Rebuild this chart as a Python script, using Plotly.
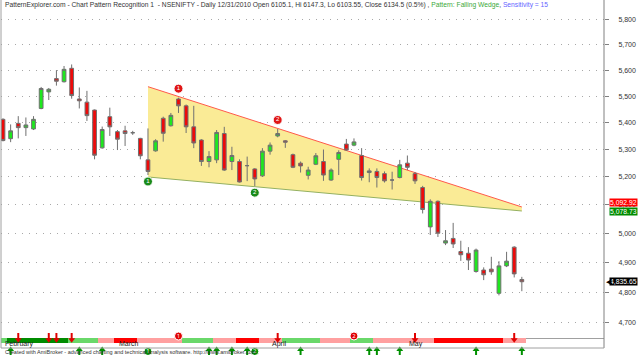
import math
import plotly.graph_objects as go

# ---------------- data ----------------
opens = [5412, 5340, 5397, 5381, 5376, 5453, 5516, 5567, 5555, 5607,
         5489, 5477, 5447, 5306, 5422, 5366, 5369, 5362, 5341, 5262,
         5295, 5416, 5388, 5489, 5463, 5384, 5335, 5256, 5262, 5359,
         5256, 5256, 5241, 5229, 5204, 5294, 5350, 5332, 5281, 5250,
         5206, 5246, 5256, 5189, 5264, 5320, 5316, 5278, 5216, 5220,
         5212, 5189, 5198, 5250, 5212, 5162, 5023, 5113, 4967, 4983,
         4938, 4932, 4870, 4875, 4878, 4797, 4889, 4953, 4843]
highs = [5416, 5393, 5424, 5419, 5424, 5535, 5531, 5600, 5616, 5622,
         5533, 5520, 5449, 5385, 5456, 5372, 5388, 5369, 5343, 5378,
         5338, 5422, 5436, 5494, 5468, 5463, 5338, 5294, 5372, 5384,
         5310, 5264, 5274, 5232, 5305, 5326, 5376, 5335, 5285, 5256,
         5237, 5287, 5300, 5231, 5297, 5339, 5341, 5305, 5231, 5231,
         5220, 5219, 5262, 5278, 5218, 5168, 5120, 5116, 5012, 5037,
         4975, 4953, 4948, 4884, 4920, 4905, 4937, 4956, 4852]
lows = [5330, 5327, 5341, 5350, 5372, 5450, 5485, 5540, 5552, 5490,
        5453, 5406, 5264, 5303, 5350, 5298, 5313, 5354, 5264, 5207,
        5292, 5329, 5385, 5436, 5361, 5305, 5240, 5235, 5250, 5222,
        5225, 5180, 5185, 5167, 5200, 5281, 5345, 5306, 5232, 5216,
        5191, 5243, 5186, 5186, 5207, 5295, 5312, 5187, 5181, 5162,
        5180, 5155, 5195, 5225, 5175, 5070, 4995, 4988, 4960, 4950,
        4906, 4875, 4866, 4841, 4859, 4790, 4885, 4850, 4804]
closes = [5333, 5369, 5381, 5391, 5412, 5529, 5526, 5557, 5603, 5502,
          5482, 5426, 5279, 5374, 5384, 5338, 5359, 5362, 5277, 5220,
          5332, 5360, 5427, 5463, 5384, 5324, 5256, 5274, 5363, 5225,
          5278, 5182, 5241, 5193, 5294, 5316, 5359, 5327, 5235, 5240,
          5225, 5277, 5207, 5225, 5289, 5298, 5328, 5198, 5222, 5198,
          5186, 5189, 5244, 5235, 5186, 5084, 5113, 5001, 4975, 4964,
          4927, 4909, 4943, 4859, 4869, 4889, 4905, 4862, 4835.65]

month_labels = ["February", "March", "April", "May"]
month_start_bars = [0, 15, 35, 53]

ribbon_state = list("LDDDDDDDDLLLLPPRRRPPPPPPLLLLPPPRRRPPPLLLLLPPPPLLLPPPPPPPPRRRRRRRRRPPP")

wedge_bars = [19, 68]
wedge_upper = [5536, 5092.92]
wedge_lower = [5200, 5078.73]

pivot_high_bars = [23, 36]
pivot_low_bars = [19, 33]
pivot_labels = ["1", "2"]

buy_bars = [1, 10, 13, 27, 28, 30, 32, 39, 48, 49, 52, 62, 68]
sell_bars = [2, 6, 7, 9, 36, 54, 67]
bottom_green_circles = [19, 33]
bottom_red_circles = [23, 46]

price_ticks = [4700, 4800, 4900, 5000, 5100, 5200, 5300, 5400, 5500, 5600, 5700, 5800]

# ---------------- geometry ----------------
W, H = 640, 355
ML, MR = 1, 36
RIB_TOP, RIB_BOT = 333, 338
K = 1442.0           # px per ln unit of price
P_REF, Y_REF = 5800, 19.5
y_top = P_REF * math.exp(Y_REF / K)
y_bot = P_REF * math.exp(-(RIB_TOP - Y_REF) / K)
yrange = [math.log10(y_bot), math.log10(y_top)]

def pf(px):  # paper fraction from pixel y
    return (H - px) / H

n = len(closes)
idx = list(range(n))
PX_PER_BAR = 7.63
x0 = -2.0 / PX_PER_BAR
x1 = x0 + (W - ML - MR) / PX_PER_BAR

fig = go.Figure()

# wedge fill (main price subplot, drawn below the overlay candles)
fig.add_trace(go.Scatter(
    x=[wedge_bars[0], wedge_bars[1], wedge_bars[1], wedge_bars[0], wedge_bars[0]],
    y=[wedge_upper[0], wedge_upper[1], wedge_lower[1], wedge_lower[0], wedge_upper[0]],
    fill="toself", fillcolor="#faeb96", line=dict(width=0), mode="lines",
    hoverinfo="skip", showlegend=False))
fig.add_trace(go.Scatter(x=wedge_bars, y=wedge_upper, mode="lines",
                         line=dict(color="#ff5a4a", width=1), showlegend=False))
fig.add_trace(go.Scatter(x=wedge_bars, y=wedge_lower, mode="lines",
                         line=dict(color="#94b060", width=1), showlegend=False))

# candles on overlay axis y3
fig.add_trace(go.Candlestick(
    x=idx, open=opens, high=highs, low=lows, close=closes, yaxis="y3",
    increasing=dict(fillcolor="#1ee81e", line=dict(color="#707070", width=1)),
    decreasing=dict(fillcolor="#ee0a0a", line=dict(color="#707070", width=1)),
    whiskerwidth=0, showlegend=False))

# pivot circles
fig.add_trace(go.Scatter(
    x=pivot_high_bars, y=[highs[i] * math.exp(9 / K) for i in pivot_high_bars], yaxis="y3",
    mode="markers+text", text=pivot_labels, textposition="middle center",
    textfont=dict(color="white", size=6, family="Liberation Sans"),
    marker=dict(size=9, color="#e01515", line=dict(color="white", width=1)),
    showlegend=False, cliponaxis=False))
fig.add_trace(go.Scatter(
    x=pivot_low_bars, y=[lows[i] * math.exp(-6.5 / K) for i in pivot_low_bars], yaxis="y3",
    mode="markers+text", text=pivot_labels, textposition="middle center",
    textfont=dict(color="white", size=6, family="Liberation Sans"),
    marker=dict(size=9, color="#1a8a1a", line=dict(color="white", width=1)),
    showlegend=False, cliponaxis=False))

# ribbon on pixel axis y2
cmap = {"L": "#6ad86a", "D": "#008c00", "P": "#ffa0a0", "R": "#ff0000"}
fig.add_trace(go.Bar(x=idx, y=[RIB_BOT - RIB_TOP] * n, base=[RIB_BOT] * n,
                     marker=dict(color=[cmap[s] for s in ribbon_state], line=dict(width=0)),
                     width=1.0, yaxis="y2", showlegend=False, hoverinfo="skip"))

# buy arrows (bottom)
fig.add_trace(go.Scatter(x=buy_bars, y=[352.5] * len(buy_bars), mode="markers", yaxis="y2",
                         marker=dict(symbol="line-ns", size=6, line=dict(color="#009000", width=2)),
                         showlegend=False, cliponaxis=False))
fig.add_trace(go.Scatter(x=buy_bars, y=[349.5] * len(buy_bars), mode="markers", yaxis="y2",
                         marker=dict(symbol="triangle-up", size=6, color="#009000"),
                         showlegend=False, cliponaxis=False))
# sell arrows
fig.add_trace(go.Scatter(x=sell_bars, y=[336.5] * len(sell_bars), mode="markers", yaxis="y2",
                         marker=dict(symbol="line-ns", size=5, line=dict(color="#e00000", width=2)),
                         showlegend=False, cliponaxis=False))
fig.add_trace(go.Scatter(x=sell_bars, y=[339.8] * len(sell_bars), mode="markers", yaxis="y2",
                         marker=dict(symbol="triangle-down", size=6, color="#e00000"),
                         showlegend=False, cliponaxis=False))
fig.add_trace(go.Scatter(x=bottom_green_circles, y=[351.5] * 2, mode="markers+text", yaxis="y2",
                         text=pivot_labels, textposition="middle center",
                         textfont=dict(color="white", size=6),
                         marker=dict(size=8, color="#009000", line=dict(color="white", width=1)),
                         showlegend=False, cliponaxis=False))
fig.add_trace(go.Scatter(x=bottom_red_circles, y=[336] * 2, mode="markers+text", yaxis="y2",
                         text=pivot_labels, textposition="middle center",
                         textfont=dict(color="white", size=6),
                         marker=dict(size=8, color="#e00000", line=dict(color="white", width=1)),
                         showlegend=False, cliponaxis=False))

FONT = "Liberation Sans"
annotations = []
title_html = ("PatternExplorer.com - Chart Pattern Recognition 1 &nbsp;- NSENIFTY - Daily 12/31/2010 "
              "Open 6105.1, Hi 6147.3, Lo 6103.55, Close 6134.5 (0.5%) , "
              "<span style='color:#3aa83a'>Pattern: Falling Wedge</span>, "
              "<span style='color:#6464ff'>Sensitivity = 15</span>")
annotations.append(dict(text=title_html, xref="paper", yref="paper", x=0, y=pf(5.5),
                        xanchor="left", yanchor="middle", xshift=2, showarrow=False,
                        font=dict(size=6.7, color="#333333", family=FONT)))
for lab, b in zip(month_labels, month_start_bars):
    annotations.append(dict(text=lab, xref="x", yref="paper", x=b, y=pf(343.5),
                            xanchor="left", yanchor="middle", xshift=0, showarrow=False,
                            font=dict(size=7, color="#222222", family=FONT)))
annotations.append(dict(text="Created with AmiBroker - advanced charting and technical analysis software. http://www.amibroker.com",
                        xref="paper", yref="paper", x=0, y=pf(351.5), xanchor="left",
                        yanchor="middle", xshift=2, showarrow=False,
                        font=dict(size=5.5, color="#333333", family=FONT)))
# price tags
tags = [(wedge_upper[1], "#ff0000", 4.5), (wedge_lower[1], "#008c00", -0.5), (closes[-1], "#000000", 0)]
for val, col, ysh in tags:
    annotations.append(dict(text=f"{val:,.2f}", xref="paper", yref="y", x=1, y=math.log10(val),
                            xanchor="left", yanchor="middle", xshift=5, yshift=ysh, showarrow=False,
                            bgcolor=col, borderpad=0,
                            font=dict(size=6.8, color="white", family=FONT)))
annotations.append(dict(text="◀", xref="paper", yref="y", x=1, y=math.log10(closes[-1]),
                        xanchor="left", yanchor="middle", xshift=0, showarrow=False,
                        font=dict(size=7, color="black", family="DejaVu Sans")))

shapes = [
    dict(type="line", xref="paper", yref="paper", x0=1, x1=1, y0=pf(348), y1=1,
         line=dict(color="#808080", width=1)),
    dict(type="line", xref="paper", yref="paper", x0=0, x1=0, y0=pf(348), y1=1,
         line=dict(color="#a0a0a0", width=1)),
    dict(type="line", xref="paper", yref="paper", x0=0, x1=1, y0=pf(348), y1=pf(348),
         line=dict(color="#a0a0a0", width=1)),
]

fig.update_layout(
    width=W, height=H, margin=dict(l=ML, r=MR, t=0, b=0, autoexpand=False),
    paper_bgcolor="white", plot_bgcolor="rgba(0,0,0,0)", showlegend=False,
    boxgap=0.3,
    xaxis=dict(range=[x0, x1], anchor="free", position=pf(RIB_BOT), showgrid=False,
               zeroline=False, tickvals=idx, ticks="outside", ticklen=4, tickcolor="#333333",
               showticklabels=False, showline=True, linecolor="#a0a0a0", linewidth=1,
               rangeslider=dict(visible=False), automargin=False, fixedrange=True),
    yaxis=dict(type="log", domain=[pf(RIB_TOP), 1], range=yrange,
               side="right", tickvals=price_ticks, ticktext=[f"{v:,}" for v in price_ticks],
               ticks="outside", ticklen=4, tickcolor="#808080", ticklabelstandoff=8,
               tickfont=dict(size=7, color="#333333", family=FONT),
               showgrid=True, gridcolor="#a8a8a8", griddash="1px,6px", gridwidth=1,
               zeroline=False, showline=False, automargin=False, anchor="x"),
    yaxis3=dict(type="log", overlaying="y", range=yrange, side="right", visible=False,
                showgrid=False, zeroline=False, anchor="x"),
    yaxis2=dict(domain=[0, 1], range=[H, 0], visible=False, anchor="x", showgrid=False,
                zeroline=False, automargin=False),
    annotations=annotations, shapes=shapes, bargap=0,
)

fig.write_html("out.html", config={"displayModeBar": False},
               post_script="document.body.style.margin='0';document.body.style.padding='0';")
